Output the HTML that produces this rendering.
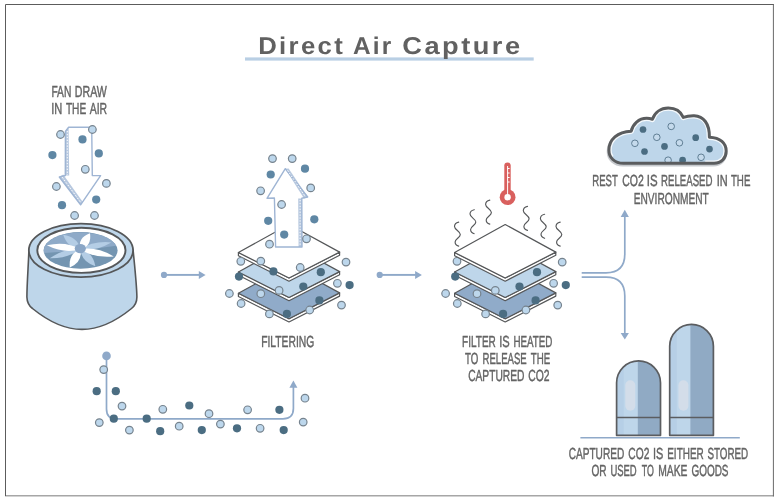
<!DOCTYPE html>
<html lang="en">
<head>
<meta charset="utf-8">
<title>Direct Air Capture</title>
<style>
html,body{margin:0;padding:0;background:#fff;}
svg{display:block;font-family:"Liberation Sans",Arial,sans-serif;text-rendering:geometricPrecision;}
</style>
</head>
<body>
<svg width="779" height="501" viewBox="0 0 779 501">
<defs><filter id="g" x="0" y="0" width="779" height="501" filterUnits="userSpaceOnUse" color-interpolation-filters="sRGB"><feColorMatrix type="saturate" values="0"/></filter></defs>
<rect width="779" height="501" fill="#fff"/>
<g fill="none">
<path d="M5 495.8H774" stroke="#a6a6a6" stroke-width="1.6"/>
<path d="M5.5 496V4.5H774" stroke="#5c5c5c" stroke-width="1"/>
<path d="M773.4 4V496.4" stroke="#6a6a6a" stroke-width="1"/>
</g>
<rect x="245" y="57.4" width="288.7" height="3.2" fill="#b9cfe4"/>
<text y="54.2" font-size="24.2" font-weight="bold" letter-spacing="2.2" fill="#606162" filter="url(#g)"><tspan x="258.2" textLength="86.9" lengthAdjust="spacingAndGlyphs">Direct</tspan> <tspan x="352.9" textLength="40.6" lengthAdjust="spacingAndGlyphs">Air</tspan> <tspan x="402.3" textLength="120.3" lengthAdjust="spacingAndGlyphs">Capture</tspan></text>
<g id="labels" filter="url(#g)" font-size="16" fill="#646464" stroke="#646464" stroke-width="0.45">
<text y="96.9"><tspan x="51.41" textLength="19.91" lengthAdjust="spacingAndGlyphs">FAN</tspan> <tspan x="74.82" textLength="32.06" lengthAdjust="spacingAndGlyphs">DRAW</tspan></text>
<text y="114.4"><tspan x="51.28" textLength="11.09" lengthAdjust="spacingAndGlyphs">IN</tspan> <tspan x="65.88" textLength="20.31" lengthAdjust="spacingAndGlyphs">THE</tspan> <tspan x="89.71" textLength="17.44" lengthAdjust="spacingAndGlyphs">AIR</tspan></text>
<text y="346.9"><tspan x="261.13" textLength="53.12" lengthAdjust="spacingAndGlyphs">FILTERING</tspan></text>
<text y="346.7"><tspan x="462.08" textLength="33.74" lengthAdjust="spacingAndGlyphs">FILTER</tspan> <tspan x="499.29" textLength="10.49" lengthAdjust="spacingAndGlyphs">IS</tspan> <tspan x="513.41" textLength="39.03" lengthAdjust="spacingAndGlyphs">HEATED</tspan></text>
<text y="363.8"><tspan x="465.12" textLength="13.29" lengthAdjust="spacingAndGlyphs">TO</tspan> <tspan x="482.57" textLength="44.17" lengthAdjust="spacingAndGlyphs">RELEASE</tspan> <tspan x="530.75" textLength="19.45" lengthAdjust="spacingAndGlyphs">THE</tspan></text>
<text y="381.1"><tspan x="468.17" textLength="56.27" lengthAdjust="spacingAndGlyphs">CAPTURED</tspan> <tspan x="528.15" textLength="21.31" lengthAdjust="spacingAndGlyphs">CO2</tspan></text>
<text y="186.4"><tspan x="592.29" textLength="25.38" lengthAdjust="spacingAndGlyphs">REST</tspan> <tspan x="622.25" textLength="21.53" lengthAdjust="spacingAndGlyphs">CO2</tspan> <tspan x="646.72" textLength="10.83" lengthAdjust="spacingAndGlyphs">IS</tspan> <tspan x="661.06" textLength="51.41" lengthAdjust="spacingAndGlyphs">RELEASED</tspan> <tspan x="716.67" textLength="10.97" lengthAdjust="spacingAndGlyphs">IN</tspan> <tspan x="730.90" textLength="19.48" lengthAdjust="spacingAndGlyphs">THE</tspan></text>
<text y="203.5"><tspan x="633.72" textLength="75.05" lengthAdjust="spacingAndGlyphs">ENVIRONMENT</tspan></text>
<text y="458.5"><tspan x="568.70" textLength="55.53" lengthAdjust="spacingAndGlyphs">CAPTURED</tspan> <tspan x="628.35" textLength="21.01" lengthAdjust="spacingAndGlyphs">CO2</tspan> <tspan x="653.00" textLength="10.34" lengthAdjust="spacingAndGlyphs">IS</tspan> <tspan x="667.24" textLength="36.47" lengthAdjust="spacingAndGlyphs">EITHER</tspan> <tspan x="707.38" textLength="40.77" lengthAdjust="spacingAndGlyphs">STORED</tspan></text>
<text y="475.8"><tspan x="591.45" textLength="15.15" lengthAdjust="spacingAndGlyphs">OR</tspan> <tspan x="610.39" textLength="26.31" lengthAdjust="spacingAndGlyphs">USED</tspan> <tspan x="641.65" textLength="12.12" lengthAdjust="spacingAndGlyphs">TO</tspan> <tspan x="658.24" textLength="29.27" lengthAdjust="spacingAndGlyphs">MAKE</tspan> <tspan x="691.38" textLength="37.14" lengthAdjust="spacingAndGlyphs">GOODS</tspan></text>
</g>
<g id="arrow-down">
<path d="M68.6 127.2H91.7L92.3 175.6H100.6L80.6 204.8L59.3 177L65.3 175.5L65.4 131.5Z" fill="#fff" stroke="#9fb5d4" stroke-width="1.4" stroke-linejoin="round"/>
<path d="M68.6 127.2L65.4 131.5L65.3 175.4H69.2Z" fill="#9fb5d4" opacity=".75"/>
<path d="M59.3 177L63.2 174.6L82.6 201.8L80.6 204.8Z" fill="#9fb5d4" opacity=".75"/>
<path d="M67.3 131V175" stroke="#fff" stroke-width="1" stroke-dasharray="1.3 1.6" fill="none"/>
<path d="M62.2 177.2L80.8 202.6" stroke="#fff" stroke-width="1" stroke-dasharray="1.6 1.6" fill="none"/>
<circle cx="60.5" cy="134.5" r="3.8" fill="#bdd7ec" stroke="#76838e" stroke-width="1.2"/>
<circle cx="92.4" cy="129.5" r="3.8" fill="#bdd7ec" stroke="#76838e" stroke-width="1.2"/>
<circle cx="85.3" cy="169.3" r="3.8" fill="#bdd7ec" stroke="#76838e" stroke-width="1.2"/>
<circle cx="56.4" cy="186.5" r="3.8" fill="#bdd7ec" stroke="#76838e" stroke-width="1.2"/>
<circle cx="106.4" cy="183.4" r="3.8" fill="#bdd7ec" stroke="#76838e" stroke-width="1.2"/>
<circle cx="74.6" cy="215.5" r="3.8" fill="#bdd7ec" stroke="#76838e" stroke-width="1.2"/>
<circle cx="94.5" cy="215.5" r="3.8" fill="#bdd7ec" stroke="#76838e" stroke-width="1.2"/>
<circle cx="82.5" cy="139.4" r="4.1" fill="#5f87a4"/>
<circle cx="52.4" cy="155.1" r="4.1" fill="#5f87a4"/>
<circle cx="98.8" cy="153.4" r="4.1" fill="#5f87a4"/>
<circle cx="96.2" cy="199.6" r="4.1" fill="#5f87a4"/>
<circle cx="62.0" cy="205.2" r="4.1" fill="#5f87a4"/>
</g>
<g id="fan">
<path d="M28.9 250C28.6 262 26.9 284 26.9 297C27 302 28.5 305.5 32.5 308.5C46 319.5 64 329.4 82 329.4C100 329.4 118 319.5 131.5 308.5C135.5 305.3 136.9 302 136.9 297C136.7 284 134.2 262 133.1 250Z" fill="#bed6ea" stroke="#555759" stroke-width="1.6" stroke-linejoin="round"/>
<ellipse cx="80.95" cy="250.4" rx="52.1" ry="26.7" fill="#bed6ea" stroke="#555759" stroke-width="1.8"/>
<ellipse cx="81.4" cy="250.3" rx="44.1" ry="22.6" fill="#fff" stroke="#555759" stroke-width="1.9"/>
<ellipse cx="80.6" cy="250.4" rx="37" ry="18.3" fill="#7495b1"/>
<path d="M80.6 250.4L43.96 252.9A37 18.3 0 0 1 116.3 245.7Z" fill="#8eaac8"/>
<path d="M80.4 249.2Q77.5 236.9 63.2 234.8Q67.8 248.5 80.4 249.2Z" fill="#b4cde5"/>
<path d="M80.4 249.2Q95.5 251.6 111.3 242.4Q93.1 240.7 80.4 249.2Z" fill="#b4cde5"/>
<path d="M80.4 249.2Q81.5 261.9 95.4 266.2Q92.8 251.8 80.4 249.2Z" fill="#b4cde5"/>
<path d="M80.4 249.2Q65.0 247.9 49.8 258.2Q68.2 258.6 80.4 249.2Z" fill="#b4cde5"/>
<path d="M80.4 249.2Q66.1 240.8 46.8 245.2Q64.5 254.0 80.4 249.2Z" fill="#fff"/>
<path d="M80.4 249.2Q91.9 246.3 90.0 233.2Q77.5 237.7 80.4 249.2Z" fill="#fff"/>
<path d="M80.4 249.2Q94.1 258.5 113.8 256.5Q96.8 246.4 80.4 249.2Z" fill="#fff"/>
<path d="M80.4 249.2Q68.4 253.3 69.8 267.6Q82.9 261.7 80.4 249.2Z" fill="#fff"/>
<ellipse cx="80.3" cy="248.6" rx="5.6" ry="4.7" fill="#8aa6c6"/>
</g>
<g fill="#8fa9c9"><circle cx="164" cy="274.9" r="3.1"/><rect x="164" y="273.95" width="35.599999999999994" height="1.9"/><path d="M198.79999999999998 270.9L205.6 274.9L198.79999999999998 278.9Z"/></g>
<g fill="#8fa9c9"><circle cx="379.7" cy="274.9" r="3.1"/><rect x="379.7" y="273.95" width="36.19999999999999" height="1.9"/><path d="M415.09999999999997 270.9L421.9 274.9L415.09999999999997 278.9Z"/></g>
<g id="stack1"><path d="M238.4 293.3L289.0 318.8L339.6 292.9V296.1L289.0 322.0L238.4 296.5Z" fill="#fff" stroke="#555759" stroke-width="1.2" stroke-linejoin="round"/><path d="M238.4 293.3L289.0 265.3L339.6 292.9L289.0 318.8Z" fill="#90abc9" stroke="#555759" stroke-width="1.2" stroke-linejoin="round"/><path d="M238.4 272.0L289.0 297.5L339.6 271.6V274.8L289.0 300.7L238.4 275.2Z" fill="#fff" stroke="#555759" stroke-width="1.2" stroke-linejoin="round"/><path d="M238.4 272.0L289.0 244.0L339.6 271.6L289.0 297.5Z" fill="#bed6ea" stroke="#555759" stroke-width="1.2" stroke-linejoin="round"/><path d="M238.4 252.5L289.0 278.0L339.6 252.1V255.3L289.0 281.2L238.4 255.7Z" fill="#fff" stroke="#555759" stroke-width="1.2" stroke-linejoin="round"/><path d="M238.4 252.5L289.0 224.5L339.6 252.1L289.0 278.0Z" fill="#fff" stroke="#555759" stroke-width="1.2" stroke-linejoin="round"/><circle cx="240.8" cy="261.3" r="3.8" fill="#bdd7ec" stroke="#76838e" stroke-width="1.2"/><circle cx="229.4" cy="293.5" r="3.8" fill="#bdd7ec" stroke="#76838e" stroke-width="1.2"/><circle cx="241.1" cy="303.5" r="3.8" fill="#bdd7ec" stroke="#76838e" stroke-width="1.2"/><circle cx="260.8" cy="293.7" r="3.8" fill="#bdd7ec" stroke="#76838e" stroke-width="1.2"/><circle cx="279.1" cy="290.4" r="3.8" fill="#bdd7ec" stroke="#76838e" stroke-width="1.2"/><circle cx="269.4" cy="313.9" r="3.8" fill="#bdd7ec" stroke="#76838e" stroke-width="1.2"/><circle cx="346.0" cy="262.1" r="3.8" fill="#bdd7ec" stroke="#76838e" stroke-width="1.2"/><circle cx="337.4" cy="283.3" r="3.8" fill="#bdd7ec" stroke="#76838e" stroke-width="1.2"/><circle cx="341.5" cy="305.1" r="3.8" fill="#bdd7ec" stroke="#76838e" stroke-width="1.2"/><circle cx="309.7" cy="310.0" r="3.8" fill="#bdd7ec" stroke="#76838e" stroke-width="1.2"/><circle cx="239.0" cy="276.6" r="4.1" fill="#4b6d82"/><circle cx="320.8" cy="272.2" r="4.1" fill="#4b6d82"/><circle cx="303.3" cy="286.5" r="4.1" fill="#4b6d82"/><circle cx="349.6" cy="285.1" r="4.1" fill="#4b6d82"/><circle cx="319.4" cy="300.4" r="4.1" fill="#4b6d82"/><circle cx="286.9" cy="313.9" r="4.1" fill="#4b6d82"/><circle cx="260.8" cy="261.1" r="3.8" fill="#bdd7ec" stroke="#76838e" stroke-width="1.2"/><circle cx="300.2" cy="267.5" r="3.8" fill="#bdd7ec" stroke="#76838e" stroke-width="1.2"/><circle cx="273.4" cy="271.4" r="4.1" fill="#4b6d82"/></g>
<g id="stack2"><path d="M454.6 293.3L505.2 318.8L555.8 292.9V296.1L505.2 322.0L454.6 296.5Z" fill="#fff" stroke="#555759" stroke-width="1.2" stroke-linejoin="round"/><path d="M454.6 293.3L505.2 265.3L555.8 292.9L505.2 318.8Z" fill="#90abc9" stroke="#555759" stroke-width="1.2" stroke-linejoin="round"/><path d="M454.6 272.0L505.2 297.5L555.8 271.6V274.8L505.2 300.7L454.6 275.2Z" fill="#fff" stroke="#555759" stroke-width="1.2" stroke-linejoin="round"/><path d="M454.6 272.0L505.2 244.0L555.8 271.6L505.2 297.5Z" fill="#bed6ea" stroke="#555759" stroke-width="1.2" stroke-linejoin="round"/><circle cx="457.0" cy="261.3" r="3.8" fill="#bdd7ec" stroke="#76838e" stroke-width="1.2"/><circle cx="445.6" cy="293.5" r="3.8" fill="#bdd7ec" stroke="#76838e" stroke-width="1.2"/><circle cx="457.3" cy="303.5" r="3.8" fill="#bdd7ec" stroke="#76838e" stroke-width="1.2"/><circle cx="477.0" cy="293.7" r="3.8" fill="#bdd7ec" stroke="#76838e" stroke-width="1.2"/><circle cx="495.3" cy="290.4" r="3.8" fill="#bdd7ec" stroke="#76838e" stroke-width="1.2"/><circle cx="485.6" cy="313.9" r="3.8" fill="#bdd7ec" stroke="#76838e" stroke-width="1.2"/><circle cx="562.2" cy="262.1" r="3.8" fill="#bdd7ec" stroke="#76838e" stroke-width="1.2"/><circle cx="553.6" cy="283.3" r="3.8" fill="#bdd7ec" stroke="#76838e" stroke-width="1.2"/><circle cx="557.7" cy="305.1" r="3.8" fill="#bdd7ec" stroke="#76838e" stroke-width="1.2"/><circle cx="525.9" cy="310.0" r="3.8" fill="#bdd7ec" stroke="#76838e" stroke-width="1.2"/><circle cx="455.2" cy="276.6" r="4.1" fill="#4b6d82"/><circle cx="537.0" cy="272.2" r="4.1" fill="#4b6d82"/><circle cx="519.5" cy="286.5" r="4.1" fill="#4b6d82"/><circle cx="565.8" cy="285.1" r="4.1" fill="#4b6d82"/><circle cx="535.6" cy="300.4" r="4.1" fill="#4b6d82"/><circle cx="503.1" cy="313.9" r="4.1" fill="#4b6d82"/><path d="M454.6 252.5L505.2 278.0L555.8 252.1V255.3L505.2 281.2L454.6 255.7Z" fill="#fff" stroke="#555759" stroke-width="1.2" stroke-linejoin="round"/><path d="M454.6 252.5L505.2 224.5L555.8 252.1L505.2 278.0Z" fill="#fff" stroke="#555759" stroke-width="1.2" stroke-linejoin="round"/></g>
<g id="arrow-up">
<path d="M285.3 168.7L307.7 197L301.8 198.2L302 247L275.6 247L274.4 198L267 198.3Z" fill="#fff" stroke="#9fb5d4" stroke-width="1.4" stroke-linejoin="round"/>
<path d="M285.3 168.7L288.6 168.4L307.7 197L304 198.4Z" fill="#9fb5d4" opacity=".75"/>
<path d="M298.2 198.4H301.8L302 247H298.6Z" fill="#9fb5d4" opacity=".75"/>
<path d="M287.6 170.4L305.6 197" stroke="#fff" stroke-width="1" stroke-dasharray="1.6 1.6" fill="none"/>
<path d="M300.1 200V246" stroke="#fff" stroke-width="1" stroke-dasharray="1.3 1.6" fill="none"/>
<circle cx="272.5" cy="158.6" r="3.8" fill="#bdd7ec" stroke="#76838e" stroke-width="1.2"/>
<circle cx="292.2" cy="158.6" r="3.8" fill="#bdd7ec" stroke="#76838e" stroke-width="1.2"/>
<circle cx="310.7" cy="187.9" r="3.8" fill="#bdd7ec" stroke="#76838e" stroke-width="1.2"/>
<circle cx="260.6" cy="190.8" r="3.8" fill="#bdd7ec" stroke="#76838e" stroke-width="1.2"/>
<circle cx="281.6" cy="204.5" r="3.8" fill="#bdd7ec" stroke="#76838e" stroke-width="1.2"/>
<circle cx="306.5" cy="238.8" r="3.8" fill="#bdd7ec" stroke="#76838e" stroke-width="1.2"/>
<circle cx="269.5" cy="244.2" r="3.8" fill="#bdd7ec" stroke="#76838e" stroke-width="1.2"/>
<circle cx="305.0" cy="168.7" r="4.1" fill="#5f87a4"/>
<circle cx="270.7" cy="174.5" r="4.1" fill="#5f87a4"/>
<circle cx="268.2" cy="220.8" r="4.1" fill="#5f87a4"/>
<circle cx="314.3" cy="219.3" r="4.1" fill="#5f87a4"/>
<circle cx="284.2" cy="234.6" r="4.1" fill="#5f87a4"/>
</g>
<g id="heat">
<path d="M458.7 222.1C456.3 222.6 454.5 224.3 454.5 226.5C454.5 229.7 460.3 231.3 460.3 234.5C460.3 237.5 455.1 238.9 455.1 241.9C455.1 244.1 456.9 245.6 458.7 246.1" fill="none" stroke="#555759" stroke-width="1.15" stroke-linecap="round"/>
<path d="M474.2 209.7C471.8 210.2 470.0 211.9 470.0 214.1C470.0 217.3 475.8 218.9 475.8 222.1C475.8 225.1 470.6 226.5 470.6 229.5C470.6 231.7 472.4 233.2 474.2 233.7" fill="none" stroke="#555759" stroke-width="1.15" stroke-linecap="round"/>
<path d="M489.8 200.1C487.4 200.6 485.6 202.3 485.6 204.5C485.6 207.7 491.4 209.3 491.4 212.5C491.4 215.5 486.2 216.9 486.2 219.9C486.2 222.1 488.0 223.6 489.8 224.1" fill="none" stroke="#555759" stroke-width="1.15" stroke-linecap="round"/>
<path d="M527.5 206.4C525.1 206.9 523.3 208.6 523.3 210.8C523.3 214.0 529.1 215.6 529.1 218.8C529.1 221.8 523.9 223.2 523.9 226.2C523.9 228.4 525.7 229.9 527.5 230.4" fill="none" stroke="#555759" stroke-width="1.15" stroke-linecap="round"/>
<path d="M544.6 214.3C542.2 214.8 540.4 216.5 540.4 218.7C540.4 221.9 546.2 223.5 546.2 226.7C546.2 229.7 541.0 231.1 541.0 234.1C541.0 236.3 542.8 237.8 544.6 238.3" fill="none" stroke="#555759" stroke-width="1.15" stroke-linecap="round"/>
<path d="M560.2 222.1C557.8 222.6 556.0 224.3 556.0 226.5C556.0 229.7 561.8 231.3 561.8 234.5C561.8 237.5 556.6 238.9 556.6 241.9C556.6 244.1 558.4 245.6 560.2 246.1" fill="none" stroke="#555759" stroke-width="1.15" stroke-linecap="round"/>
</g>
<g id="thermo">
<rect x="504.3" y="162.4" width="6.4" height="32" rx="3.2" fill="#d9605e"/>
<circle cx="507.6" cy="197.2" r="7.9" fill="#d9605e"/>
<circle cx="507.6" cy="197.2" r="3.2" fill="#fff"/>
<path d="M507.6 197V166" stroke="#fff" stroke-width="1" fill="none"/>
<path d="M507.6 168.5h2M507.6 173h2M507.6 177.5h2M507.6 182h2" stroke="#fff" stroke-width="1" fill="none"/>
</g>
<g id="upath">
<path d="M106.5 356V409Q106.5 418.8 116 418.8H283Q293.4 418.8 293.4 408.5V387" fill="none" stroke="#8fa9c9" stroke-width="1.7"/>
<circle cx="106.5" cy="355.9" r="4.3" fill="#8fa9c9"/>
<path d="M289.4 387.8L293.4 380.4L297.4 387.8Z" fill="#8fa9c9"/>
<circle cx="103.7" cy="369.6" r="3.8" fill="#bdd7ec" stroke="#76838e" stroke-width="1.2"/>
<circle cx="122.0" cy="406.1" r="3.8" fill="#bdd7ec" stroke="#76838e" stroke-width="1.2"/>
<circle cx="162.8" cy="409.3" r="3.8" fill="#bdd7ec" stroke="#76838e" stroke-width="1.2"/>
<circle cx="99.3" cy="422.6" r="3.8" fill="#bdd7ec" stroke="#76838e" stroke-width="1.2"/>
<circle cx="129.4" cy="430.1" r="3.8" fill="#bdd7ec" stroke="#76838e" stroke-width="1.2"/>
<circle cx="179.2" cy="426.2" r="3.8" fill="#bdd7ec" stroke="#76838e" stroke-width="1.2"/>
<circle cx="209.0" cy="413.7" r="3.8" fill="#bdd7ec" stroke="#76838e" stroke-width="1.2"/>
<circle cx="247.6" cy="409.8" r="3.8" fill="#bdd7ec" stroke="#76838e" stroke-width="1.2"/>
<circle cx="305.0" cy="398.2" r="3.8" fill="#bdd7ec" stroke="#76838e" stroke-width="1.2"/>
<circle cx="303.2" cy="422.1" r="3.8" fill="#bdd7ec" stroke="#76838e" stroke-width="1.2"/>
<circle cx="220.4" cy="424.1" r="3.8" fill="#bdd7ec" stroke="#76838e" stroke-width="1.2"/>
<circle cx="260.1" cy="428.3" r="3.8" fill="#bdd7ec" stroke="#76838e" stroke-width="1.2"/>
<circle cx="96.7" cy="391.2" r="4.1" fill="#4b6d82"/>
<circle cx="115.8" cy="391.2" r="4.1" fill="#4b6d82"/>
<circle cx="189.3" cy="405.5" r="4.1" fill="#4b6d82"/>
<circle cx="113.8" cy="418.7" r="4.1" fill="#4b6d82"/>
<circle cx="146.7" cy="418.7" r="4.1" fill="#4b6d82"/>
<circle cx="160.2" cy="431.2" r="4.1" fill="#4b6d82"/>
<circle cx="201.8" cy="430.1" r="4.1" fill="#4b6d82"/>
<circle cx="279.4" cy="409.8" r="4.1" fill="#4b6d82"/>
<circle cx="237.0" cy="428.3" r="4.1" fill="#4b6d82"/>
<circle cx="283.7" cy="430.1" r="4.1" fill="#4b6d82"/>
</g>
<g id="split">
<path d="M581.7 272.8H606Q624.8 272.8 624.8 254V216" fill="none" stroke="#8fa9c9" stroke-width="1.7"/>
<path d="M581.7 277.2H606Q624.8 277.2 624.8 296V334" fill="none" stroke="#8fa9c9" stroke-width="1.7"/>
<path d="M620.7 216.9L624.8 209.8L628.9 216.9Z" fill="#8fa9c9"/>
<path d="M620.7 332.9L624.8 339.6L628.9 332.9Z" fill="#8fa9c9"/>
</g>
<g id="cloud">
<path d="M623.5 163.3C614.5 163.3 608.9 157.5 608.9 150.2C608.9 139.5 617.5 131.8 631.2 131.2C632.8 124 638.8 118.3 646.6 118.3C649 118.3 650.9 118.7 652.4 119.3C654.7 112.6 660.6 108 668.3 108C675.2 108 680.8 111.6 683.3 117.4C686.5 116.2 690 115.7 694.2 115.8C703.5 116.2 709.6 123.5 709.4 137.2C720.5 137.6 726.2 143.6 726.2 151C726.2 158 721.5 163.3 714 163.3Z" fill="none" stroke="#c6c9cd" stroke-width="3.2" transform="translate(-0.6 1.6)"/>
<path d="M623.5 163.3C614.5 163.3 608.9 157.5 608.9 150.2C608.9 139.5 617.5 131.8 631.2 131.2C632.8 124 638.8 118.3 646.6 118.3C649 118.3 650.9 118.7 652.4 119.3C654.7 112.6 660.6 108 668.3 108C675.2 108 680.8 111.6 683.3 117.4C686.5 116.2 690 115.7 694.2 115.8C703.5 116.2 709.6 123.5 709.4 137.2C720.5 137.6 726.2 143.6 726.2 151C726.2 158 721.5 163.3 714 163.3Z" fill="#bed6ea"/>
<circle cx="671.2" cy="126.4" r="3.3" fill="#c5daec" stroke="#55748a" stroke-width="0.9"/>
<circle cx="656.8" cy="137.3" r="3.3" fill="#c5daec" stroke="#55748a" stroke-width="0.9"/>
<circle cx="634.9" cy="143.3" r="3.3" fill="#c5daec" stroke="#55748a" stroke-width="0.9"/>
<circle cx="679.4" cy="142.8" r="3.3" fill="#c5daec" stroke="#55748a" stroke-width="0.9"/>
<circle cx="701.1" cy="157.3" r="3.3" fill="#c5daec" stroke="#55748a" stroke-width="0.9"/>
<circle cx="668.1" cy="160.2" r="3.3" fill="#c5daec" stroke="#55748a" stroke-width="0.9"/>
<circle cx="643.0" cy="129.5" r="3.35" fill="#4b6d82"/>
<circle cx="644.5" cy="151.5" r="3.35" fill="#4b6d82"/>
<circle cx="664.5" cy="146.4" r="3.35" fill="#4b6d82"/>
<circle cx="695.7" cy="137.7" r="3.35" fill="#4b6d82"/>
<circle cx="709.5" cy="149.1" r="3.35" fill="#4b6d82"/>
<circle cx="682.6" cy="160.2" r="3.35" fill="#4b6d82"/>
<clipPath id="cc"><path d="M623.5 163.3C614.5 163.3 608.9 157.5 608.9 150.2C608.9 139.5 617.5 131.8 631.2 131.2C632.8 124 638.8 118.3 646.6 118.3C649 118.3 650.9 118.7 652.4 119.3C654.7 112.6 660.6 108 668.3 108C675.2 108 680.8 111.6 683.3 117.4C686.5 116.2 690 115.7 694.2 115.8C703.5 116.2 709.6 123.5 709.4 137.2C720.5 137.6 726.2 143.6 726.2 151C726.2 158 721.5 163.3 714 163.3Z"/></clipPath>
<path d="M623.5 163.3C614.5 163.3 608.9 157.5 608.9 150.2C608.9 139.5 617.5 131.8 631.2 131.2C632.8 124 638.8 118.3 646.6 118.3C649 118.3 650.9 118.7 652.4 119.3C654.7 112.6 660.6 108 668.3 108C675.2 108 680.8 111.6 683.3 117.4C686.5 116.2 690 115.7 694.2 115.8C703.5 116.2 709.6 123.5 709.4 137.2C720.5 137.6 726.2 143.6 726.2 151C726.2 158 721.5 163.3 714 163.3Z" fill="none" stroke="#fff" stroke-width="5.6" stroke-linejoin="round" clip-path="url(#cc)" opacity=".85" stroke-dasharray="200 400" stroke-dashoffset="-14"/>
<path d="M623.5 163.3C614.5 163.3 608.9 157.5 608.9 150.2C608.9 139.5 617.5 131.8 631.2 131.2C632.8 124 638.8 118.3 646.6 118.3C649 118.3 650.9 118.7 652.4 119.3C654.7 112.6 660.6 108 668.3 108C675.2 108 680.8 111.6 683.3 117.4C686.5 116.2 690 115.7 694.2 115.8C703.5 116.2 709.6 123.5 709.4 137.2C720.5 137.6 726.2 143.6 726.2 151C726.2 158 721.5 163.3 714 163.3Z" fill="none" stroke="#5a5c5e" stroke-width="3" stroke-linejoin="round"/>
</g>
<g id="tanks">
<clipPath id="c616"><path d="M616.6 435.3V382.84999999999997A21.94999999999999 21.94999999999999 0 0 1 660.5 382.84999999999997V435.3Z"/></clipPath><path d="M616.6 435.3V382.84999999999997A21.94999999999999 21.94999999999999 0 0 1 660.5 382.84999999999997V435.3Z" fill="#bed6ea"/><rect x="616.6" y="360.9" width="7" height="74.40000000000003" fill="#adc8e1" clip-path="url(#c616)" opacity=".5"/><rect x="637.8" y="360.9" width="22.700000000000045" height="74.40000000000003" fill="#90aac4" clip-path="url(#c616)"/><rect x="625.3000000000001" y="380.2" width="10" height="30.6" rx="5" fill="#d3dde9"/><path d="M616.6 435.3V382.84999999999997A21.94999999999999 21.94999999999999 0 0 1 660.5 382.84999999999997V435.3Z" fill="none" stroke="#5b5d60" stroke-width="1.7" stroke-linejoin="round"/><path d="M616.6 417.5H660.5" stroke="#5b5d60" stroke-width="1.7" fill="none"/>
<clipPath id="c669"><path d="M669.7 435.3V346.24999999999994A21.849999999999966 21.849999999999966 0 0 1 713.4 346.24999999999994V435.3Z"/></clipPath><path d="M669.7 435.3V346.24999999999994A21.849999999999966 21.849999999999966 0 0 1 713.4 346.24999999999994V435.3Z" fill="#bed6ea"/><rect x="669.7" y="324.4" width="7" height="110.90000000000003" fill="#adc8e1" clip-path="url(#c669)" opacity=".5"/><rect x="690.4" y="324.4" width="23.0" height="110.90000000000003" fill="#90aac4" clip-path="url(#c669)"/><rect x="678.4000000000001" y="380.2" width="10" height="30.6" rx="5" fill="#d3dde9"/><path d="M669.7 435.3V346.24999999999994A21.849999999999966 21.849999999999966 0 0 1 713.4 346.24999999999994V435.3Z" fill="none" stroke="#5b5d60" stroke-width="1.7" stroke-linejoin="round"/><path d="M669.7 417.5H713.4" stroke="#5b5d60" stroke-width="1.7" fill="none"/>
<path d="M580.4 437.7H739.8" stroke="#8fa9c9" stroke-width="1.4" fill="none"/>
</g>
</svg>
</body>
</html>
